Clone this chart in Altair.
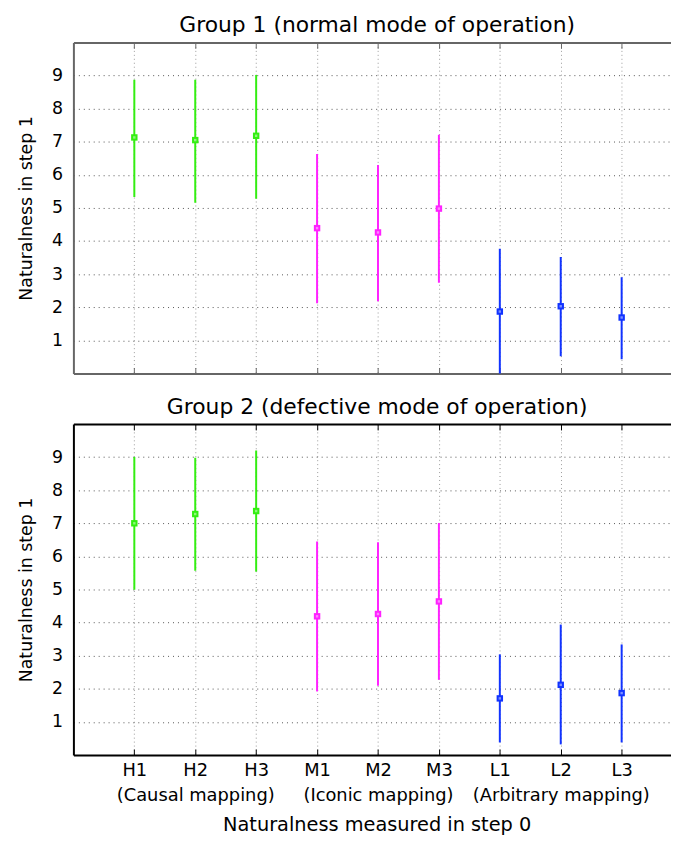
import altair as alt
import pandas as pd

# ---------------- data ----------------
categories = ["H1", "H2", "H3", "M1", "M2", "M3", "L1", "L2", "L3"]
families = ["H", "H", "H", "M", "M", "M", "L", "L", "L"]
family_names = {"H2": "(Causal mapping)", "M2": "(Iconic mapping)", "L2": "(Arbitrary mapping)"}
family_colors = ["#33ee11", "#ff22ff", "#1133ff"]

g1_mean = [7.13, 7.05, 7.18, 4.39, 4.26, 4.98, 1.87, 2.03, 1.69]
g1_low = [5.33, 5.16, 5.28, 2.12, 2.18, 2.74, -0.05, 0.52, 0.43]
g1_high = [8.87, 8.87, 9.02, 6.63, 6.30, 7.21, 3.77, 3.52, 2.91]

g2_mean = [7.00, 7.28, 7.37, 4.19, 4.26, 4.64, 1.71, 2.12, 1.87]
g2_low = [4.99, 5.57, 5.54, 1.92, 2.09, 2.27, 0.38, 0.32, 0.38]
g2_high = [9.00, 8.98, 9.20, 6.45, 6.43, 7.01, 3.04, 3.94, 3.34]

y_ticks = [1, 2, 3, 4, 5, 6, 7, 8, 9]

FONT = "DejaVu Sans"
W, H = 603, 334
X_DOMAIN = [0, 9.81]
x_positions = list(range(1, len(categories) + 1))

# label expression built from the category names
parts = []
for pos, cat in zip(x_positions, categories):
    if cat in family_names:
        parts.append(f"datum.value == {pos} ? ['{cat}', '{family_names[cat]}']")
    else:
        parts.append(f"datum.value == {pos} ? '{cat}'")
LABEL_EXPR = " : ".join(parts) + " : ''"


def panel(title, mean, low, high, border, bottom):
    df = pd.DataFrame({
        "cat": categories, "family": families, "pos": x_positions,
        "mean": mean, "low": low, "high": high,
    })
    xscale = alt.Scale(domain=X_DOMAIN, nice=False, zero=False)
    yscale = alt.Scale(domain=[0, 10], nice=False, zero=False)
    color = alt.Color("family:N",
                      scale=alt.Scale(domain=["H", "M", "L"], range=family_colors),
                      legend=None)

    main_x_kwargs = dict(
        orient="bottom", values=x_positions, grid=True, gridColor="#9a9a9a",
        gridDash=[1, 3], gridWidth=1, ticks=False, domain=True,
        domainColor=border, domainWidth=2, labels=bottom, labelAngle=0,
    )
    if bottom:
        main_x_kwargs.update(dict(
            labelExpr=LABEL_EXPR, labelFont=FONT, labelFontSize=18,
            labelColor="#000000", labelPadding=7, labelLineHeight=25,
            labelOverlap=False, labelBaseline="top", labelAlign="center",
            labelFlush=False,
            title="Naturalness measured in step 0", titleFont=FONT,
            titleFontSize=19.5, titleFontWeight="normal", titleColor="#000000",
            titlePadding=11, titleX=306,
        ))
    else:
        main_x_kwargs["title"] = None
    x_main = alt.Axis(**main_x_kwargs)

    x_bottom_ticks = alt.Axis(
        orient="top", offset=-H, values=x_positions, domain=False,
        labels=False, grid=False, ticks=True, tickSize=6, tickColor=border,
        tickWidth=1, title=None,
    )
    x_top_border = alt.Axis(
        orient="bottom", offset=-H, values=x_positions, domain=True,
        domainColor=border, domainWidth=2, labels=False, grid=False,
        ticks=True, tickSize=6, tickColor=border, tickWidth=1, title=None,
    )
    y_main = alt.Axis(
        orient="left", values=y_ticks, grid=True, gridColor="#555555",
        gridDash=[1, 4], gridWidth=1, ticks=False, domain=True,
        domainColor=border, domainWidth=2, labelFont=FONT, labelFontSize=17.5,
        labelColor="#000000", labelPadding=11,
        title="Naturalness in step 1", titleFont=FONT, titleFontSize=17.5,
        titleFontWeight="normal", titleColor="#000000", titlePadding=16,
    )

    base = alt.Chart(df)
    bars = base.mark_rule(strokeWidth=2, clip=True).encode(
        x=alt.X("pos:Q", scale=xscale, axis=x_main),
        y=alt.Y("low:Q", scale=yscale, axis=y_main),
        y2="high:Q",
        color=color,
    )
    squares = base.mark_square(size=42, opacity=1, filled=True).encode(
        x=alt.X("pos:Q", scale=xscale, axis=x_bottom_ticks),
        y=alt.Y("mean:Q", scale=yscale, axis=y_main),
        color=color,
    )
    centers = base.mark_square(size=6, opacity=0.45, filled=True, color="#ffffff").encode(
        x=alt.X("pos:Q", scale=xscale, axis=x_top_border),
        y=alt.Y("mean:Q", scale=yscale, axis=y_main),
    )
    return alt.layer(bars, squares, centers).resolve_axis(
        x="independent"
    ).properties(
        width=W, height=H,
        title=alt.Title(title, font=FONT, fontSize=22, fontWeight="normal",
                        color="#000000", anchor="middle", frame="group",
                        dx=5, offset=5),
    )


top = panel("Group 1 (normal mode of operation)", g1_mean, g1_low, g1_high,
            "#666666", False)
bottom = panel("Group 2 (defective mode of operation)", g2_mean, g2_low, g2_high,
               "#000000", True)

chart = alt.vconcat(top, bottom, spacing=21).properties(
    padding={"left": 9, "top": 2, "right": 0, "bottom": 0},
    background="#ffffff",
).configure_view(stroke=None)

chart.save("out.html", embed_options={"renderer": "svg", "actions": False})
